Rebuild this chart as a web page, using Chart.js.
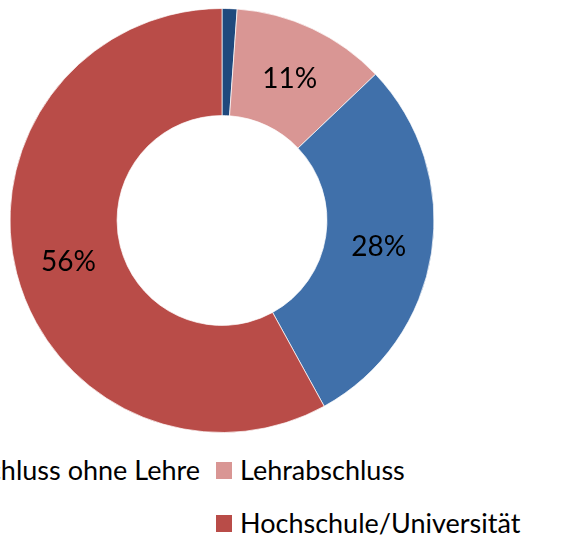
<!DOCTYPE html>
<html>
<head>
<meta charset="utf-8">
<script src="https://cdn.jsdelivr.net/npm/chart.js@4/dist/chart.umd.min.js"></script>
<style>
  body { margin: 0; width: 566px; height: 537px; overflow: hidden; background: #fff; position: relative; font-family: Lato, "Open Sans", sans-serif; }
  #wrap { position: absolute; left: 0; top: 8px; width: 444px; height: 425px; }
  .col { position: absolute; top: 453px; }
  .item { height: 53px; display: flex; align-items: flex-start; white-space: nowrap; font-size: 27px; color: #000; line-height: 34px; }
  .box { width: 16px; height: 17px; margin: 9px 8px 0 0; flex: none; }
</style>
</head>
<body>
<div id="wrap"><canvas id="donut" width="444" height="425"></canvas></div>
<div id="col1" class="col" style="right: 366px;"></div>
<div id="col2" class="col" style="left: 216px;"></div>
<script>
// Daten
const kategorien = ['Pflichtschulabschluss ohne Lehre', 'Lehrabschluss', 'Matura', 'Hochschule/Universität'];
const anteile = [1.1, 11.3, 28.0, 55.8];
const farben = ['#1F497D', '#D99694', '#4070AA', '#B94C48'];

// Prozentwerte in die Ringsegmente schreiben
const beschriftung = {
    id: 'beschriftung',
    afterDatasetsDraw(chart) {
        const ctx = chart.ctx;
        const meta = chart.getDatasetMeta(0);
        ctx.save();
        ctx.font = '28px Lato';
        ctx.fillStyle = '#000';
        ctx.textAlign = 'center';
        ctx.textBaseline = 'middle';
        meta.data.forEach((arc, i) => {
            if (anteile[i] < 5) return; // kleines Segment ohne Beschriftung
            const pos = arc.tooltipPosition();
            ctx.fillText(Math.round(anteile[i]) + '%', pos.x, pos.y + 2);
        });
        ctx.restore();
    }
};

const ctx = document.getElementById('donut').getContext('2d');
const donut = new Chart(ctx, {
    type: 'doughnut',
    data: {
        labels: kategorien,
        datasets: [{
            data: anteile,
            backgroundColor: farben,
            borderColor: 'rgba(255,255,255,0.7)',
            borderWidth: 1,
            hoverOffset: 0
        }]
    },
    options: {
        responsive: false,
        animation: false,
        events: [],
        cutout: '49.5%',
        layout: { padding: 0 },
        plugins: {
            legend: { display: false },
            tooltip: { enabled: false }
        }
    },
    plugins: [beschriftung]
});

// Legende wie im Original: zwei Spalten, erste Spalte links abgeschnitten
function legendeEintrag(i) {
    const div = document.createElement('div');
    div.className = 'item';
    const box = document.createElement('span');
    box.className = 'box';
    box.style.background = farben[i];
    const txt = document.createElement('span');
    txt.textContent = kategorien[i];
    div.appendChild(box);
    div.appendChild(txt);
    return div;
}
const col1 = document.getElementById('col1');
const col2 = document.getElementById('col2');
col1.appendChild(legendeEintrag(0));
col1.appendChild(legendeEintrag(2));
col2.appendChild(legendeEintrag(1));
col2.appendChild(legendeEintrag(3));
</script>
</body>
</html>
